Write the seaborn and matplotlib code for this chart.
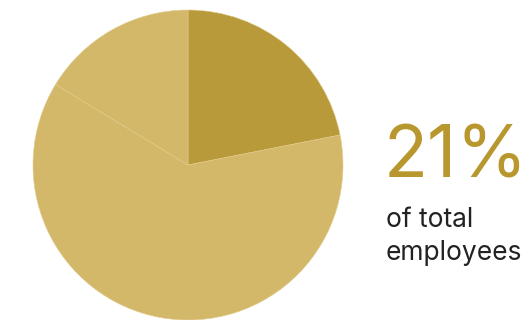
import matplotlib
matplotlib.use("Agg")
import matplotlib.pyplot as plt
import seaborn as sns

# Data
labels = ["Group A", "Group B", "Group C"]
shares = [21.9, 61.8, 16.3]
colors = ["#B89A3A", "#D3B86A", "#D3B86A"]
headline = "21%"
caption_lines = ["of total", "employees"]

sns.set_theme(style="white")
plt.rcParams["font.family"] = ["Inter", "DejaVu Sans"]

fig = plt.figure(figsize=(5.31, 3.20), dpi=100)
fig.patch.set_facecolor("white")

ax = fig.add_axes([33 / 531, 0.0, 310 / 531, 310 / 320])
ax.pie(shares, colors=colors, startangle=90, counterclock=False,
       radius=1.0, wedgeprops=dict(edgecolor="#E2CC8C", linewidth=0.4))
ax.set_xlim(-1, 1)
ax.set_ylim(-1, 1)
ax.set_aspect("equal")
ax.axis("off")

fig.text(384 / 531, (320 - 178) / 320, headline,
         family=["Inter", "DejaVu Sans"],
         fontsize=52, color="#B8972E", ha="left", va="baseline", fontweight="normal")
for i, line in enumerate(caption_lines):
    fig.text(386 / 531, (320 - (227 + 33 * i)) / 320, line, fontsize=19,
             color="#222222", ha="left", va="baseline",
             family=["Inter", "DejaVu Sans"])

fig.savefig("out.png", dpi=100)
